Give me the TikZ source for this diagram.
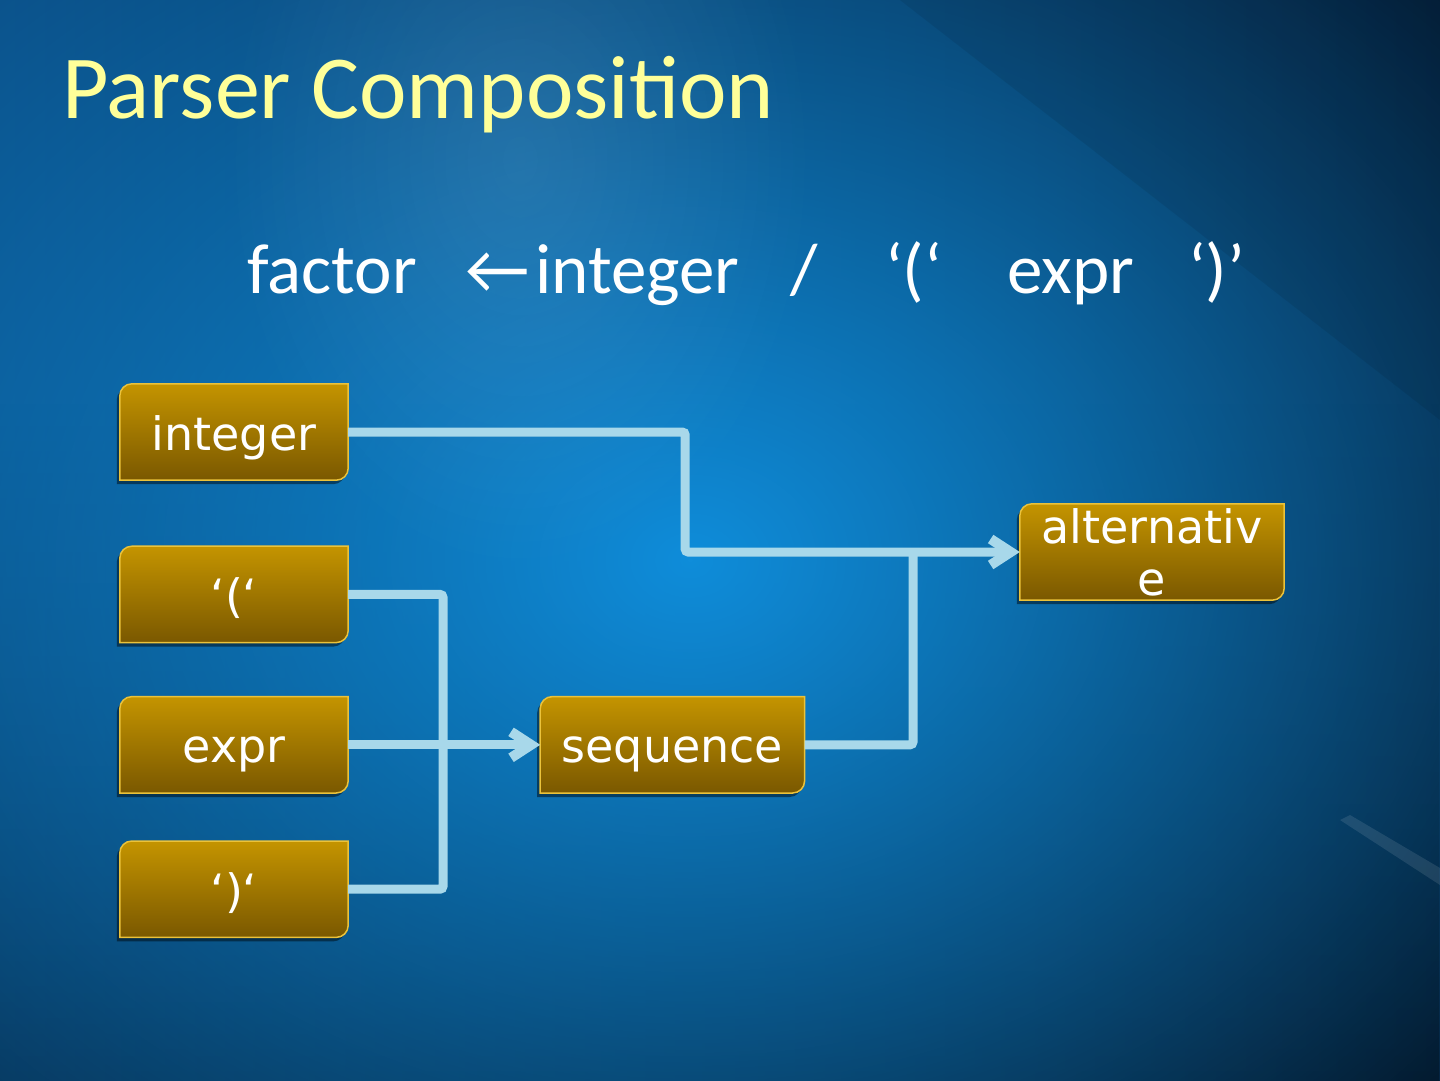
\documentclass[tikz,border=0pt]{standalone}
\usepackage{fontspec}
\setmainfont{Carlito}
\newfontfamily\dejavu{DejaVu Sans}
\usetikzlibrary{positioning, arrows.meta, fadings}
\definecolor{slidedark}{HTML}{05203B}
\definecolor{slideleft}{HTML}{0B5088}
\definecolor{slidebright}{HTML}{0F8DDA}
\definecolor{titleyellow}{HTML}{FFFF99}
\definecolor{goldtop}{HTML}{C49400}
\definecolor{goldbottom}{HTML}{7A5800}
\definecolor{goldedge}{HTML}{EBC23A}
\definecolor{wirecolor}{HTML}{A8D8EA}

\tikzfading[name=glow, inner color=transparent!0, outer color=transparent!100]
\tikzfading[name=downdark, top color=transparent!100, bottom color=transparent!0]

\pgfdeclarelayer{slidebg}
\pgfdeclarelayer{boxes}
\pgfsetlayers{slidebg,boxes,main}

% box outline: round corners only top left and bottom right
\newcommand{\blockpath}[1]{(#1.south west) -- ([yshift=-12pt]#1.north west) arc[start angle=180, end angle=90, radius=12pt] -- (#1.north east) -- ([yshift=12pt]#1.south east) arc[start angle=0, end angle=-90, radius=12pt] -- cycle}
\newcommand{\blockshape}[1]{%
  \fill[black, opacity=0.45, transform canvas={xshift=-3pt, yshift=-4pt}] \blockpath{#1};
  \shade[top color=goldtop, bottom color=goldbottom, draw=goldedge, line width=1.5pt] \blockpath{#1};
}

\begin{document}
\begin{tikzpicture}[x=1pt, y=-1pt,
        blockbase/.style={minimum width=228pt, minimum height=96pt, inner sep=0pt, text=white, font=\dejavu\fontsize{46}{52}\selectfont},
        block/.style={blockbase, text height=40pt, text depth=4pt},
        wideblock/.style={block, minimum width=264pt},
        line/.style={draw=wirecolor, line width=9pt, rounded corners=3pt},
        tip/.style={-{Straight Barb[length=20pt, width=26pt, line width=10pt, sharp]}},
        formula/.style={anchor=base west, inner sep=0pt, text=white, font=\fontsize{71}{80}\selectfont}]

    \useasboundingbox (0,0) rectangle (1440,1080);

    % Background
    \begin{pgfonlayer}{slidebg}
        \begin{scope}
            \clip (0,0) rectangle (1440,1080);
            \shade[left color=slideleft, right color=slidedark] (0,0) rectangle (1440,1080);
            \fill[black, opacity=0.4, path fading=downdark] (0,400) rectangle (1440,1200);
            \fill[slidebright, path fading=glow] (690,560) ellipse [x radius=1050, y radius=820];
            \fill[white, opacity=0.1, path fading=glow] (520,160) ellipse [x radius=300, y radius=420];
            \fill[black, opacity=0.08] (900,0) -- (1440,0) -- (1440,420) -- cycle;
            \fill[white, opacity=0.1] (1350,815) -- (1440,868) -- (1440,885) -- (1340,820) -- cycle;
        \end{scope}
    \end{pgfonlayer}

    % Title and rule
    \node[anchor=base west, inner sep=0pt, text=titleyellow, font=\fontsize{90}{100}\selectfont] (title) at (62,118) {Parser Composition};

    \node[formula] (lhs) at (247,293) {factor};
    \node[formula] (arrowsym) at (465,293) {←};
    \node[formula] (rhsint) at (535,293) {integer};
    \node[formula] (slash) at (790,293) {/};
    \node[formula] (openq) at (885,293) {‘(‘};
    \node[formula] (rhsexpr) at (1007,293) {expr};
    \node[formula] (closeq) at (1188,293) {‘)’};

    % Parser blocks
    \node[block] (integer) at (234,432) {integer};
    \node[block, below=66pt of integer] (lparen) {‘(‘};
    \node[block, below=54pt of lparen] (expr) {expr};
    \node[block, below=48pt of expr] (rparen) {‘)‘};
    \node[wideblock, right=192pt of expr] (sequence) {sequence};
    \node[blockbase, minimum width=264pt, align=center] (alternative) at (1152,552) {alternativ\\e};

    \begin{pgfonlayer}{boxes}
        \foreach \b in {integer, lparen, expr, rparen, sequence, alternative}
            \blockshape{\b};
    \end{pgfonlayer}

    % Connectors
    \coordinate (bus) at (443,744);
    \coordinate (merge) at (913,552);
    \draw[line] (lparen.east) -| (bus);
    \draw[line] (rparen.east) -| (bus);
    \draw[line, tip] (expr.east) -- (sequence.west);
    \draw[line] (sequence.east) -| (merge);
    \draw[line, tip] (integer.east) -- ++(337,0) |- (alternative.west);
\end{tikzpicture}
\end{document}
